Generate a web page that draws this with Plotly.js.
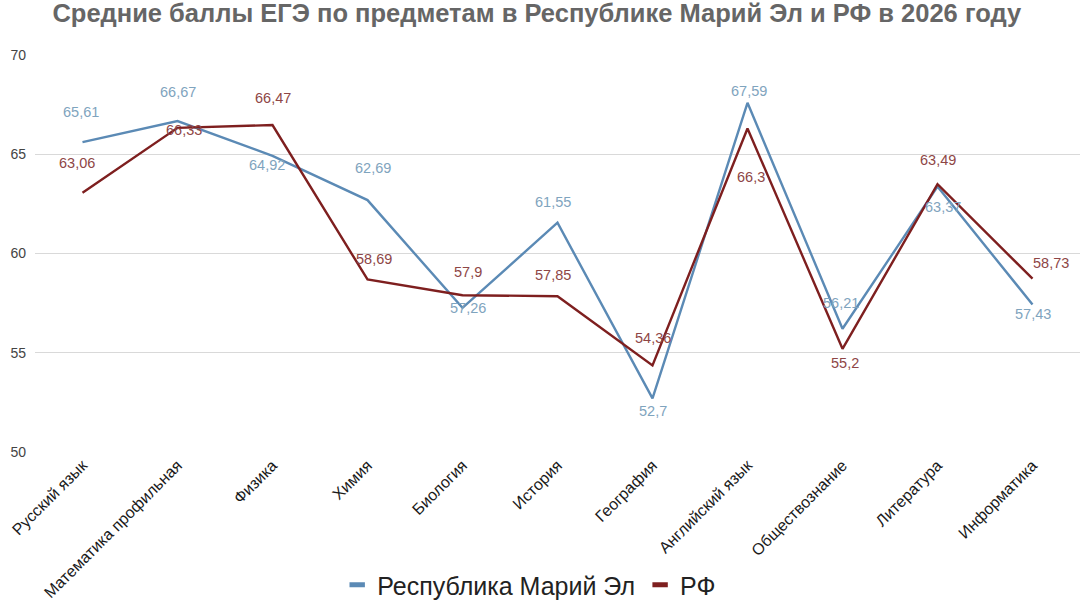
<!DOCTYPE html>
<html>
<head>
<meta charset="utf-8">
<script src="https://cdn.plot.ly/plotly-3.0.1.min.js"></script>
<style>
  html, body { margin: 0; padding: 0; background: #ffffff; }
  #chart { width: 1080px; height: 608px; }
</style>
</head>
<body>
<div id="chart"></div>
<script>
const categories = [
  "Русский язык", "Математика профильная", "Физика", "Химия", "Биология",
  "История", "География", "Английский язык", "Обществознание", "Литература", "Информатика"
];
const mariEl = [65.61, 66.67, 64.92, 62.69, 57.26, 61.55, 52.7, 67.59, 56.21, 63.37, 57.43];
const rf = [63.06, 66.33, 66.47, 58.69, 57.9, 57.85, 54.36, 66.3, 55.2, 63.49, 58.73];
const seriesNames = ["Республика Марий Эл", "РФ"];
const yTicks = [50, 55, 60, 65, 70];

// label placement (pixel offsets relative to each point) - styling only
const mariElLabelDx = [-2, 0, -6, 5, 5, -5, 0, 1, -2, 5, 0];
const mariElLabelDy = [30, 29, -9, 32, 0, 21, -13, 12, 26, -20, -9];
const rfLabelDx = [-6, 6, 0, 6, 5, -5, 0, 3, 2, 0, 18];
const rfLabelDy = [30, -2, 27, 21, 23, 21, 27, -49, -14, 24, 16];

const blueLine = "#5b8ab5";
const redLine = "#7e1f1f";
const blueLabel = "#7fa4be";
const redLabel = "#8e4646";
const fontFamily = "Liberation Sans, Arial, sans-serif";

function fmt(v) { return String(v).replace(".", ","); }

const traces = [
  { x: categories, y: mariEl, type: "scatter", mode: "lines", name: seriesNames[0],
    line: { color: blueLine, width: 2.4 }, showlegend: false, hoverinfo: "skip" },
  { x: categories, y: rf, type: "scatter", mode: "lines", name: seriesNames[1],
    line: { color: redLine, width: 2.4 }, showlegend: false, hoverinfo: "skip" },
  { x: [null], y: [null], type: "scatter", mode: "markers", name: seriesNames[0],
    marker: { symbol: "line-ew", size: 11, line: { width: 5, color: blueLine } } },
  { x: [null], y: [null], type: "scatter", mode: "markers", name: seriesNames[1],
    marker: { symbol: "line-ew", size: 11, line: { width: 5, color: redLine } } }
];

const annotations = [];
categories.forEach((c, i) => {
  annotations.push({ x: c, y: mariEl[i], xref: "x", yref: "y", text: fmt(mariEl[i]), showarrow: false,
    xshift: mariElLabelDx[i], yshift: mariElLabelDy[i], font: { family: fontFamily, size: 14.5, color: blueLabel } });
  annotations.push({ x: c, y: rf[i], xref: "x", yref: "y", text: fmt(rf[i]), showarrow: false,
    xshift: rfLabelDx[i], yshift: rfLabelDy[i], font: { family: fontFamily, size: 14.5, color: redLabel } });
});

const layout = {
  width: 1080, height: 608,
  paper_bgcolor: "#ffffff", plot_bgcolor: "#ffffff",
  margin: { l: 35, r: 0, t: 55, b: 156, pad: 0, autoexpand: false },
  font: { family: fontFamily, color: "#333333" },
  title: {
    text: "<b>Средние баллы ЕГЭ по предметам в Республике Марий Эл и РФ в 2026 году</b>",
    font: { family: fontFamily, size: 25.5, color: "#666666" },
    x: 0.497, xanchor: "center", xref: "container",
    y: 0.978, yanchor: "middle", yref: "container"
  },
  xaxis: {
    type: "category", range: [-0.5, 10.5], automargin: false,
    showgrid: false, zeroline: false, showline: false, ticks: "",
    tickangle: -45, tickfont: { family: fontFamily, size: 16, color: "#1a1a1a" },
    fixedrange: true
  },
  yaxis: {
    range: [50, 70], tickvals: yTicks, ticktext: yTicks.map(String), automargin: false,
    showgrid: true, gridcolor: "#d9d9d9", gridwidth: 1,
    zeroline: false, showline: false, ticks: "",
    tickfont: { family: fontFamily, size: 14, color: "#444444" },
    ticklabelstandoff: 8, fixedrange: true
  },
  legend: {
    orientation: "h", x: 0.49, xanchor: "center", xref: "container",
    y: -0.008, yanchor: "bottom", yref: "container",
    font: { family: fontFamily, size: 25, color: "#222222" },
    itemwidth: 30, bgcolor: "rgba(0,0,0,0)"
  },
  annotations: annotations,
  showlegend: true
};

Plotly.newPlot("chart", traces, layout, { displayModeBar: false, staticPlot: true });
</script>
</body>
</html>
